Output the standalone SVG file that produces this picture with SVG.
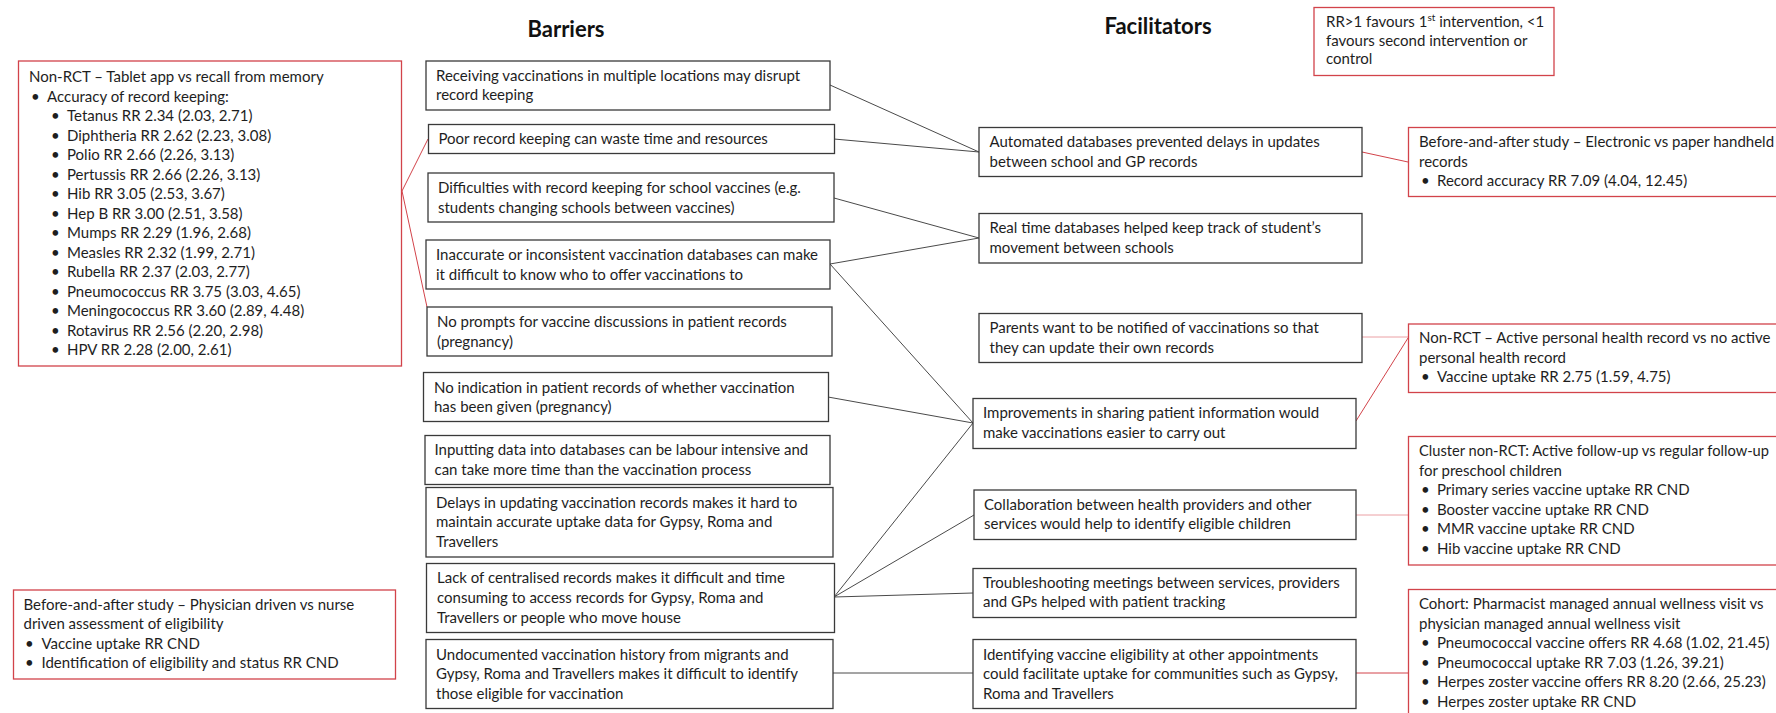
<svg xmlns="http://www.w3.org/2000/svg" width="1776" height="713" viewBox="0 0 1776 713">
<style>
.bx{fill:#fff;stroke:#3a3a3a;stroke-width:1.3}
.rb{fill:#fff;stroke:#d2434a;stroke-width:1.3}
text{font-family:Lato,"Liberation Sans",sans-serif;font-size:15px;fill:#1e1e1e}
.h{font-size:22px;font-weight:bold;fill:#111}
.cn line{stroke:#4a4a4a;stroke-width:1}
.cr line{stroke:#d2434a;stroke-width:1}
.cr line.lt{stroke:#eba0a4}
</style>
<rect width="1776" height="713" fill="#fff"/>
<g id="titles">
<text class="h" x="566" y="37" text-anchor="middle">Barriers</text>
<text class="h" x="1158" y="34" text-anchor="middle">Facilitators</text>
</g>
<g id="connectors">
<g class="cn">
<line x1="830" y1="85" x2="979" y2="152"/>
<line x1="834" y1="139" x2="979" y2="152"/>
<line x1="834" y1="198" x2="979" y2="238"/>
<line x1="830" y1="264" x2="979" y2="238"/>
<line x1="830" y1="264" x2="973" y2="423"/>
<line x1="828" y1="397" x2="973" y2="423"/>
<line x1="834" y1="597" x2="973" y2="423"/>
<line x1="834" y1="597" x2="974" y2="515"/>
<line x1="834" y1="597" x2="973" y2="593"/>
<line x1="833" y1="673" x2="973" y2="673"/>
</g>
<g class="cr">
<line x1="402" y1="191" x2="428" y2="139"/>
<line x1="402" y1="191" x2="427" y2="307"/>
<line x1="1362" y1="152" x2="1408" y2="162"/>
<line class="lt" x1="1362" y1="337" x2="1408" y2="337"/>
<line x1="1356" y1="421" x2="1408" y2="338"/>
<line class="lt" x1="1356" y1="515" x2="1408" y2="515"/>
<line x1="1356" y1="673" x2="1408" y2="673"/>
</g>
</g>
<g id="ev-tablet">
<rect class="rb" x="18.5" y="61" width="383" height="305"/>
<text x="29" y="82">Non-RCT – Tablet app vs recall from memory</text>
<text x="31" y="101.5">•</text><text x="47" y="101.5">Accuracy of record keeping:</text>
<g>
<text x="51" y="121">•</text><text x="67" y="121">Tetanus RR 2.34 (2.03, 2.71)</text>
<text x="51" y="140.5">•</text><text x="67" y="140.5">Diphtheria RR 2.62 (2.23, 3.08)</text>
<text x="51" y="160">•</text><text x="67" y="160">Polio RR 2.66 (2.26, 3.13)</text>
<text x="51" y="179.5">•</text><text x="67" y="179.5">Pertussis RR 2.66 (2.26, 3.13)</text>
<text x="51" y="199">•</text><text x="67" y="199">Hib RR 3.05 (2.53, 3.67)</text>
<text x="51" y="218.5">•</text><text x="67" y="218.5">Hep B RR 3.00 (2.51, 3.58)</text>
<text x="51" y="238">•</text><text x="67" y="238">Mumps RR 2.29 (1.96, 2.68)</text>
<text x="51" y="257.5">•</text><text x="67" y="257.5">Measles RR 2.32 (1.99, 2.71)</text>
<text x="51" y="277">•</text><text x="67" y="277">Rubella RR 2.37 (2.03, 2.77)</text>
<text x="51" y="296.5">•</text><text x="67" y="296.5">Pneumococcus RR 3.75 (3.03, 4.65)</text>
<text x="51" y="316">•</text><text x="67" y="316">Meningococcus RR 3.60 (2.89, 4.48)</text>
<text x="51" y="335.5">•</text><text x="67" y="335.5">Rotavirus RR 2.56 (2.20, 2.98)</text>
<text x="51" y="355">•</text><text x="67" y="355">HPV RR 2.28 (2.00, 2.61)</text>
</g>
</g>
<g id="ev-physician">
<rect class="rb" x="13.5" y="590" width="382" height="89"/>
<text x="23.5" y="609.5">Before-and-after study – Physician driven vs nurse</text>
<text x="23.5" y="629">driven assessment of eligibility</text>
<text x="25" y="648.5">•</text><text x="41.5" y="648.5">Vaccine uptake RR CND</text>
<text x="25" y="667.5">•</text><text x="41.5" y="667.5">Identification of eligibility and status RR CND</text>
</g>
<g id="b1">
<rect class="bx" x="426" y="61" width="404" height="49"/>
<text x="436" y="80.7">Receiving vaccinations in multiple locations may disrupt</text>
<text x="436" y="100">record keeping</text>
</g>
<g id="b2">
<rect class="bx" x="428.5" y="124.5" width="406" height="29"/>
<text x="438.5" y="144">Poor record keeping can waste time and resources</text>
</g>
<g id="b3">
<rect class="bx" x="428" y="173" width="406" height="49"/>
<text x="438" y="193.3">Difficulties with record keeping for school vaccines (e.g.</text>
<text x="438" y="212.7">students changing schools between vaccines)</text>
</g>
<g id="b4">
<rect class="bx" x="426" y="240" width="404" height="49"/>
<text x="436" y="260.3">Inaccurate or inconsistent vaccination databases can make</text>
<text x="436" y="280">it difficult to know who to offer vaccinations to</text>
</g>
<g id="b5">
<rect class="bx" x="427" y="307" width="405" height="49"/>
<text x="437" y="327.3">No prompts for vaccine discussions in patient records</text>
<text x="437" y="346.7">(pregnancy)</text>
</g>
<g id="b6">
<rect class="bx" x="423.5" y="372.5" width="405" height="49"/>
<text x="434" y="392.7">No indication in patient records of whether vaccination</text>
<text x="434" y="412.3">has been given (pregnancy)</text>
</g>
<g id="b7">
<rect class="bx" x="425" y="435.5" width="405" height="49"/>
<text x="434.5" y="455.3">Inputting data into databases can be labour intensive and</text>
<text x="434.5" y="474.7">can take more time than the vaccination process</text>
</g>
<g id="b8">
<rect class="bx" x="426" y="487.5" width="407" height="69.5"/>
<text x="436" y="508">Delays in updating vaccination records makes it hard to</text>
<text x="436" y="527.3">maintain accurate uptake data for Gypsy, Roma and</text>
<text x="436" y="546.7">Travellers</text>
</g>
<g id="b9">
<rect class="bx" x="426.5" y="563.5" width="408" height="69"/>
<text x="437" y="583.3">Lack of centralised records makes it difficult and time</text>
<text x="437" y="603.3">consuming to access records for Gypsy, Roma and</text>
<text x="437" y="622.7">Travellers or people who move house</text>
</g>
<g id="b10">
<rect class="bx" x="426" y="639.5" width="407" height="69"/>
<text x="436" y="660">Undocumented vaccination history from migrants and</text>
<text x="436" y="679.3">Gypsy, Roma and Travellers makes it difficult to identify</text>
<text x="436" y="698.7">those eligible for vaccination</text>
</g>
<g id="f1">
<rect class="bx" x="979" y="127.5" width="383" height="49"/>
<text x="989.5" y="147.3">Automated databases prevented delays in updates</text>
<text x="989.5" y="166.7">between school and GP records</text>
</g>
<g id="f2">
<rect class="bx" x="979" y="213.5" width="383" height="49.5"/>
<text x="989.5" y="233.3">Real time databases helped keep track of student’s</text>
<text x="989.5" y="252.7">movement between schools</text>
</g>
<g id="f3">
<rect class="bx" x="979" y="313.5" width="383" height="49"/>
<text x="989.5" y="333.3">Parents want to be notified of vaccinations so that</text>
<text x="989.5" y="352.7">they can update their own records</text>
</g>
<g id="f4">
<rect class="bx" x="973" y="398.5" width="383" height="50"/>
<text x="983" y="418.3">Improvements in sharing patient information would</text>
<text x="983" y="437.7">make vaccinations easier to carry out</text>
</g>
<g id="f5">
<rect class="bx" x="974" y="490" width="382" height="49.5"/>
<text x="984" y="510">Collaboration between health providers and other</text>
<text x="984" y="529.3">services would help to identify eligible children</text>
</g>
<g id="f6">
<rect class="bx" x="973" y="568.5" width="383" height="49"/>
<text x="983" y="588">Troubleshooting meetings between services, providers</text>
<text x="983" y="607.3">and GPs helped with patient tracking</text>
</g>
<g id="f7">
<rect class="bx" x="973" y="639.5" width="383" height="69"/>
<text x="983" y="660">Identifying vaccine eligibility at other appointments</text>
<text x="983" y="679.3">could facilitate uptake for communities such as Gypsy,</text>
<text x="983" y="698.7">Roma and Travellers</text>
</g>
<g id="note">
<rect class="rb" x="1314" y="7.5" width="240" height="68"/>
<text x="1326" y="26.7">RR&gt;1 favours 1<tspan font-size="10" dy="-6">st</tspan><tspan dy="6"> intervention, &lt;1</tspan></text>
<text x="1326" y="45.7">favours second intervention or</text>
<text x="1326" y="64.3">control</text>
</g>
<g id="ev-electronic">
<rect class="rb" x="1408.5" y="127.5" width="380" height="69"/>
<text x="1419" y="147.3">Before-and-after study – Electronic vs paper handheld</text>
<text x="1419" y="166.7">records</text>
<text x="1421" y="186">•</text><text x="1437" y="186">Record accuracy RR 7.09 (4.04, 12.45)</text>
</g>
<g id="ev-phr">
<rect class="rb" x="1408.5" y="324" width="380" height="68.5"/>
<text x="1419" y="343.3">Non-RCT – Active personal health record vs no active</text>
<text x="1419" y="362.7">personal health record</text>
<text x="1421" y="382.3">•</text><text x="1437" y="382.3">Vaccine uptake RR 2.75 (1.59, 4.75)</text>
</g>
<g id="ev-followup">
<rect class="rb" x="1408.5" y="436.5" width="380" height="128.5"/>
<text x="1419" y="456" textLength="350" lengthAdjust="spacingAndGlyphs">Cluster non-RCT: Active follow-up vs regular follow-up</text>
<text x="1419" y="475.7">for preschool children</text>
<text x="1421" y="495.3">•</text><text x="1437" y="495.3">Primary series vaccine uptake RR CND</text>
<text x="1421" y="514.7">•</text><text x="1437" y="514.7">Booster vaccine uptake RR CND</text>
<text x="1421" y="534.3">•</text><text x="1437" y="534.3">MMR vaccine uptake RR CND</text>
<text x="1421" y="553.7">•</text><text x="1437" y="553.7">Hib vaccine uptake RR CND</text>
</g>
<g id="ev-cohort">
<rect class="rb" x="1408.5" y="589.5" width="380" height="140"/>
<text x="1419" y="609">Cohort: Pharmacist managed annual wellness visit vs</text>
<text x="1419" y="628.7">physician managed annual wellness visit</text>
<text x="1421" y="648.3">•</text><text x="1437" y="648.3">Pneumococcal vaccine offers RR 4.68 (1.02, 21.45)</text>
<text x="1421" y="667.7">•</text><text x="1437" y="667.7">Pneumococcal uptake RR 7.03 (1.26, 39.21)</text>
<text x="1421" y="687.3">•</text><text x="1437" y="687.3">Herpes zoster vaccine offers RR 8.20 (2.66, 25.23)</text>
<text x="1421" y="706.7">•</text><text x="1437" y="706.7">Herpes zoster uptake RR CND</text>
</g>
</svg>
